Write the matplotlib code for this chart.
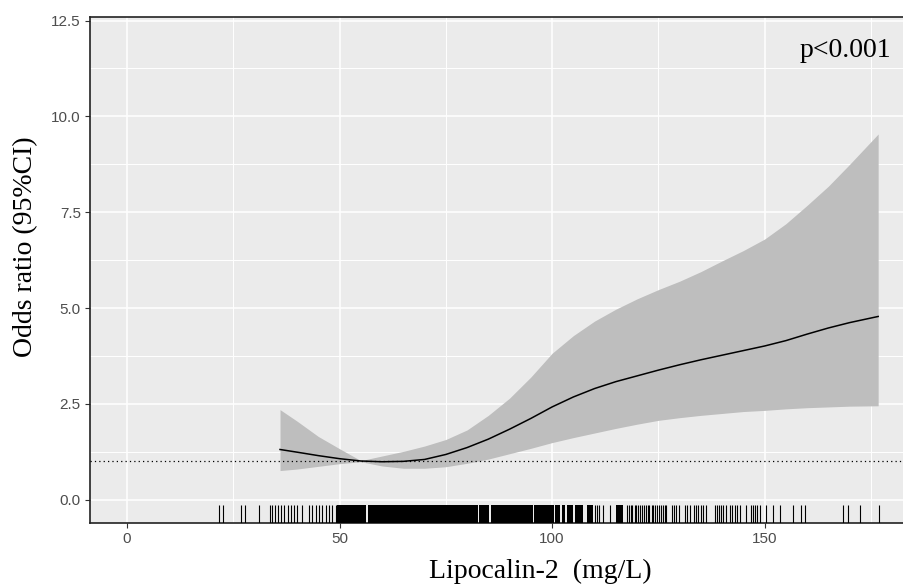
import matplotlib
matplotlib.use("Agg")
import matplotlib.pyplot as plt
from matplotlib.ticker import MultipleLocator

# ── DATA ────────────────────────────────────────────────────
lcn2 = [36, 40, 45, 50, 55, 60, 65, 70, 75, 80, 85, 90, 95, 100, 105, 110,
        115, 120, 125, 130, 135, 140, 145, 150, 155, 160, 165, 170, 176.7]
or_fit = [1.31, 1.24, 1.15, 1.07, 1.01, 0.99, 1.00, 1.05, 1.18, 1.36, 1.58,
          1.84, 2.12, 2.42, 2.68, 2.90, 3.08, 3.23, 3.38, 3.52, 3.65, 3.77,
          3.89, 4.01, 4.15, 4.32, 4.48, 4.62, 4.78]
or_upper = [2.35, 2.05, 1.65, 1.33, 1.02, 1.14, 1.26, 1.40, 1.57, 1.82, 2.20,
            2.65, 3.20, 3.82, 4.28, 4.66, 4.97, 5.24, 5.48, 5.70, 5.95, 6.23,
            6.50, 6.80, 7.20, 7.68, 8.18, 8.75, 9.54]
or_lower = [0.76, 0.80, 0.87, 0.94, 0.99, 0.88, 0.82, 0.82, 0.86, 0.95, 1.06,
            1.20, 1.34, 1.49, 1.62, 1.74, 1.86, 1.97, 2.07, 2.14, 2.20, 2.25,
            2.30, 2.33, 2.37, 2.40, 2.42, 2.44, 2.45]

# rug: single observations and the solid (dense) stretches
rug_ticks = [21.7, 22.5, 26.8, 27.8, 31.1, 33.6, 34.2, 34.7, 35.5, 36.2, 36.9,
             37.9, 38.5, 39.3, 40.1, 41.1, 42.8, 43.6, 44.4, 45.1, 45.9, 46.7,
             47.5, 48.3, 49.1, 110.1, 110.6, 111.1, 112.0, 113.6,
             117.6, 118.0, 118.5, 118.9, 119.4, 119.8, 120.3, 120.6, 121.2,
             121.6, 122.1, 122.5, 122.9, 123.4, 123.8, 124.2, 124.6,
             125.1, 125.5, 126.0, 126.5, 126.9, 128.2, 128.6, 129.2, 129.9,
             131.3, 131.8, 132.4, 133.3, 133.8, 134.4, 135.0, 135.6, 136.2,
             138.4, 138.8, 139.3, 139.8, 140.3, 140.9, 141.9, 142.4, 143.0,
             143.5, 144.1, 145.5, 146.9, 147.3, 147.8, 148.3, 148.8, 150.4,
             152.0, 153.5, 156.6, 158.6, 159.4, 168.5, 169.6, 172.5, 176.8]
rug_span_start = [49.5, 56.7, 82.9, 85.6, 95.8, 100.7, 102.3, 103.4, 105.4, 108.1, 115.0]
rug_span_end = [56.3, 82.5, 85.2, 95.4, 100.4, 101.9, 103.0, 105.0, 107.3, 109.7, 116.7]

x_ticks = [0, 50, 100, 150]
y_ticks = [0.0, 2.5, 5.0, 7.5, 10.0, 12.5]
x_label = "Lipocalin-2  (mg/L)"
y_label = "Odds ratio (95%CI)"
p_text = "p<0.001"

# ── FIGURE ──────────────────────────────────────────────────
fig = plt.figure(figsize=(9.04, 5.85), dpi=100)
ax = fig.add_axes([90 / 904, 1 - 522.7 / 585, 826 / 904, 506 / 585])
ax.set_facecolor("#EBEBEB")

ax.set_xlim(-8.7, 185.6)
ax.set_ylim(-0.6, 12.6)
ax.set_xticks(x_ticks)
ax.set_yticks(y_ticks)
ax.set_yticklabels([f"{v:.1f}" for v in y_ticks])
ax.xaxis.set_minor_locator(MultipleLocator(25))
ax.yaxis.set_minor_locator(MultipleLocator(1.25))
ax.grid(which="major", color="white", lw=1.1)
ax.grid(which="minor", color="white", lw=0.7)
ax.set_axisbelow(True)
ax.tick_params(which="minor", length=0)
ax.tick_params(which="major", length=3.6, width=0.8, color="#333333",
               labelcolor="#4D4D4D", labelsize=11, pad=3)
for lab in ax.get_xticklabels() + ax.get_yticklabels():
    lab.set_family("Liberation Sans")
for sp in ax.spines.values():
    sp.set_color("#222222")
    sp.set_linewidth(1.2)

# ribbon + fitted curve
ax.fill_between(lcn2, or_lower, or_upper, color="#BEBEBE", lw=0, zorder=2)
ax.plot(lcn2, or_fit, color="black", lw=1.1, zorder=3)
ax.axhline(1.0, color="black", lw=0.9, ls=(0, (1, 2.5)), zorder=3)

# rug
ax.vlines(rug_ticks, 0, 0.034, transform=ax.get_xaxis_transform(),
          color="black", lw=0.8, zorder=3)
for s, e in zip(rug_span_start, rug_span_end):
    ax.axvspan(s, e, ymin=0, ymax=0.034, color="black", lw=0, zorder=3)

ax.text(179.8, 11.72, p_text, ha="right", va="center",
        family="Liberation Serif", fontsize=20)

fig.text(540 / 904, 1 - 578 / 585, x_label, ha="center", va="baseline",
         family="Liberation Serif", fontsize=20)
fig.text(26 / 904, 1 - 247 / 585, y_label, ha="center", va="center",
         rotation=90, family="Liberation Serif", fontsize=20)

fig.savefig("out.png", dpi=100)
